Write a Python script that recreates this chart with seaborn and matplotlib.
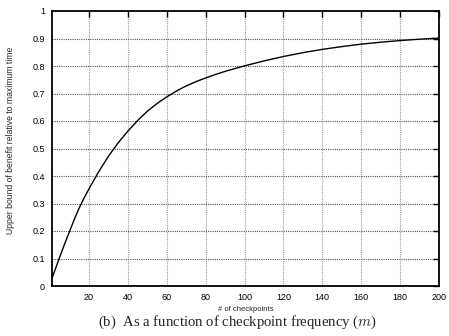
import matplotlib
matplotlib.use("Agg")
import matplotlib.pyplot as plt
import seaborn as sns
import pandas as pd

checkpoints = [1, 5, 7.5, 10, 12.5, 15, 17.5, 20, 25, 30, 35, 40, 45, 50, 55, 60, 65,
               70, 75, 80, 85, 90, 100, 110, 120, 130, 140, 150, 160, 170, 180, 190, 200]
benefit = [0.028, 0.106, 0.153, 0.198, 0.243, 0.284, 0.32, 0.353, 0.4155, 0.4715,
           0.5205, 0.563, 0.6015, 0.6355, 0.6635, 0.6875, 0.709, 0.7275, 0.743,
           0.7565, 0.769, 0.7805, 0.8005, 0.8185, 0.8345, 0.8485, 0.8605, 0.8705,
           0.8795, 0.8865, 0.8925, 0.8975, 0.9015]
x_ticks = [20, 40, 60, 80, 100, 120, 140, 160, 180, 200]
y_ticks = [0, 0.1, 0.2, 0.3, 0.4, 0.5, 0.6, 0.7, 0.8, 0.9, 1]
y_tick_labels = ["0", "0.1", "0.2", "0.3", "0.4", "0.5", "0.6", "0.7", "0.8", "0.9", "1"]

sns.set_style("white")
plt.rcParams['font.family'] = ['Liberation Sans', 'DejaVu Sans']
plt.rcParams['mathtext.fontset'] = 'cm'

df = pd.DataFrame({"m": checkpoints, "b": benefit})

fig = plt.figure(figsize=(4.49, 3.36), dpi=100)
ax = fig.add_axes([52/449, 1-286/336, (439-52)/449, (286-11)/336])

# grid
for xv in x_ticks[:-1]:
    ax.axvline(xv, color='#9a9a9a', lw=0.8, ls=(0, (1, 1)), zorder=0)
for yv in y_ticks[1:-1]:
    ax.axhline(yv, color='#555555', lw=0.8, ls=(0, (1, 1)), zorder=0)

sns.lineplot(data=df, x="m", y="b", color="black", lw=1.0, ax=ax)

ax.set_xlim(1, 200)
ax.set_ylim(0, 1)
ax.set_xticks(x_ticks)
ax.set_yticks(y_ticks)
ax.set_yticklabels(y_tick_labels)
ax.tick_params(axis='both', direction='in', length=4, width=1.0, labelsize=6.5,
               top=True, right=True, pad=5, colors='black')
for s in ax.spines.values():
    s.set_linewidth(1.3)
    s.set_color('black')
ax.set_xlabel("# of checkpoints", fontsize=5.5, labelpad=3)
ax.set_ylabel("Upper bound of benefit relative to maximum time", fontsize=6.2)
ax.yaxis.set_label_coords(-(52-15)/387, 0.53)

fig.text(237/449, 1-322/336, "(b)  As a function of checkpoint frequency ($m$)",
         ha='center', va='center', fontsize=10.6, family=['Liberation Serif', 'DejaVu Serif'])

fig.savefig("out.png", dpi=100)
